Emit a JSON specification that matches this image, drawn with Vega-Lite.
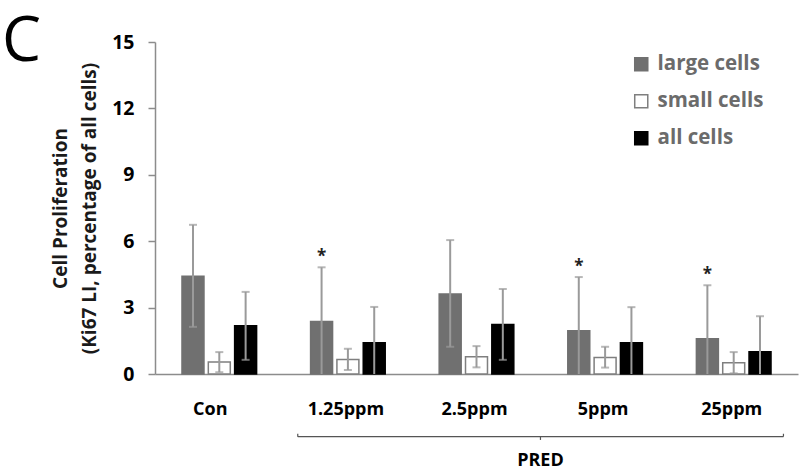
{
  "$schema": "https://vega.github.io/schema/vega-lite/v6.json",
  "width": 643,
  "height": 332,
  "autosize": "none",
  "padding": {"left": 155, "top": 42, "right": 2, "bottom": 98},
  "background": "white",
  "config": {"view": {"stroke": null}, "font": "Open Sans"},
  "title": {"text": "C", "anchor": "start", "frame": "group", "fontSize": 62, "font": "Open Sans", "fontWeight": "normal", "color": "black", "dx": -153, "dy": 42, "offset": 0},
  "datasets": {
    "cells": [
      {"group": "Con", "series": "large cells", "mean": 4.42, "lo": 2.13, "hi": 6.74, "sig": ""},
      {"group": "Con", "series": "small cells", "mean": 0.54, "lo": 0.08, "hi": 0.99, "sig": ""},
      {"group": "Con", "series": "all cells", "mean": 2.18, "lo": 0.64, "hi": 3.71, "sig": ""},
      {"group": "1.25ppm", "series": "large cells", "mean": 2.37, "lo": 0, "hi": 4.82, "sig": "*"},
      {"group": "1.25ppm", "series": "small cells", "mean": 0.66, "lo": 0.18, "hi": 1.14, "sig": ""},
      {"group": "1.25ppm", "series": "all cells", "mean": 1.41, "lo": 0, "hi": 3.03, "sig": ""},
      {"group": "2.5ppm", "series": "large cells", "mean": 3.62, "lo": 1.23, "hi": 6.05, "sig": ""},
      {"group": "2.5ppm", "series": "small cells", "mean": 0.78, "lo": 0.30, "hi": 1.26, "sig": ""},
      {"group": "2.5ppm", "series": "all cells", "mean": 2.24, "lo": 0.64, "hi": 3.84, "sig": ""},
      {"group": "5ppm", "series": "large cells", "mean": 1.95, "lo": 0, "hi": 4.38, "sig": "*"},
      {"group": "5ppm", "series": "small cells", "mean": 0.75, "lo": 0.29, "hi": 1.23, "sig": ""},
      {"group": "5ppm", "series": "all cells", "mean": 1.41, "lo": 0, "hi": 3.02, "sig": ""},
      {"group": "25ppm", "series": "large cells", "mean": 1.59, "lo": 0, "hi": 4.01, "sig": "*"},
      {"group": "25ppm", "series": "small cells", "mean": 0.51, "lo": 0.03, "hi": 0.99, "sig": ""},
      {"group": "25ppm", "series": "all cells", "mean": 1.00, "lo": 0, "hi": 2.61, "sig": ""}
    ],
    "bracket": [
      {"from": "1.25ppm", "to": "25ppm", "mid": "2.5ppm", "label": "PRED"}
    ]
  },
  "layer": [
    {
      "data": {"name": "cells"},
      "layer": [
        {
          "mark": {"type": "bar", "strokeWidth": 1.5},
          "encoding": {
            "x": {"field": "group", "type": "nominal",
              "scale": {"domain": ["Con", "1.25ppm", "2.5ppm", "5ppm", "25ppm"], "paddingInner": 0.386, "paddingOuter": 0.193},
              "axis": {"title": null, "labelAngle": 0, "ticks": false, "domainColor": "#8c8c8c", "domainWidth": 1.5,
                "labelFont": "Open Sans", "labelFontSize": 18, "labelFontWeight": "bold", "labelColor": "black", "labelPadding": 26,
                "labelOffset": {"condition": {"test": "datum.value === 'Con'", "value": -9}, "value": -2}}},
            "xOffset": {"field": "series", "type": "nominal",
              "scale": {"domain": ["large cells", "small cells", "all cells"], "paddingInner": 0.165, "paddingOuter": 0.0825}},
            "y": {"field": "mean", "type": "quantitative",
              "scale": {"domain": [0, 15], "nice": false, "zero": true},
              "axis": {"values": [0, 3, 6, 9, 12, 15], "grid": false, "domainColor": "#8c8c8c", "domainWidth": 1.5,
                "tickColor": "#8c8c8c", "tickSize": 7, "tickWidth": 1.5,
                "labelFont": "Open Sans", "labelFontSize": 19.5, "labelFontWeight": "bold", "labelColor": "black", "labelPadding": 14,
                "title": ["Cell Proliferation", "(Ki67 LI, percentage of all cells)"],
                "titleFont": "Open Sans", "titleFontSize": 19, "titleFontWeight": "bold", "titleColor": "#1a1a1a",
                "titleLineHeight": 29, "titlePadding": 12}},
            "fill": {"field": "series", "type": "nominal",
              "scale": {"domain": ["large cells", "small cells", "all cells"], "range": ["#707070", "#ffffff", "#000000"]},
              "legend": {"title": null, "orient": "none", "legendX": 476, "legendY": 12, "symbolType": "square", "symbolSize": 170,
                "symbolStrokeWidth": 1.5, "labelFont": "Open Sans", "labelFontSize": 20.5, "labelFontWeight": "bold", "labelColor": "#6b6b6b",
                "rowPadding": 16, "labelOffset": 6}},
            "stroke": {"field": "series", "type": "nominal",
              "scale": {"domain": ["large cells", "small cells", "all cells"], "range": ["#707070", "#7f7f7f", "#000000"]},
              "legend": {"title": null, "orient": "none", "legendX": 476, "legendY": 12, "symbolType": "square", "symbolSize": 170,
                "symbolStrokeWidth": 1.5, "labelFont": "Open Sans", "labelFontSize": 20.5, "labelFontWeight": "bold", "labelColor": "#6b6b6b",
                "rowPadding": 16, "labelOffset": 6}}
          }
        },
        {
          "mark": {"type": "rule", "color": "#9a9a9a", "strokeWidth": 2},
          "encoding": {
            "x": {"field": "group", "type": "nominal"},
            "xOffset": {"field": "series", "type": "nominal"},
            "y": {"field": "lo", "type": "quantitative"},
            "y2": {"field": "hi"}
          }
        },
        {
          "mark": {"type": "tick", "color": "#9a9a9a", "thickness": 2, "size": 8},
          "encoding": {
            "x": {"field": "group", "type": "nominal"},
            "xOffset": {"field": "series", "type": "nominal"},
            "y": {"field": "hi", "type": "quantitative"}
          }
        },
        {
          "transform": [{"filter": "datum.lo > 0"}],
          "mark": {"type": "tick", "color": "#9a9a9a", "thickness": 2, "size": 8},
          "encoding": {
            "x": {"field": "group", "type": "nominal"},
            "xOffset": {"field": "series", "type": "nominal"},
            "y": {"field": "lo", "type": "quantitative"}
          }
        },
        {
          "transform": [{"filter": "datum.sig !== ''"}],
          "mark": {"type": "text", "font": "Open Sans", "fontSize": 17, "fontWeight": "bold", "color": "#222222", "dy": -10, "baseline": "middle"},
          "encoding": {
            "x": {"field": "group", "type": "nominal"},
            "xOffset": {"field": "series", "type": "nominal"},
            "y": {"field": "hi", "type": "quantitative"},
            "text": {"field": "sig"}
          }
        }
      ]
    },
    {
      "data": {"name": "bracket"},
      "layer": [
        {
          "mark": {"type": "rule", "color": "#555555", "strokeWidth": 1.2},
          "encoding": {
            "x": {"field": "from", "type": "nominal", "bandPosition": -0.135},
            "x2": {"field": "to", "bandPosition": 1.13},
            "y": {"datum": -2.83}
          }
        },
        {
          "mark": {"type": "rule", "color": "#555555", "strokeWidth": 1.2},
          "encoding": {
            "x": {"field": "from", "type": "nominal", "bandPosition": -0.135},
            "y": {"datum": -2.83},
            "y2": {"datum": -2.7}
          }
        },
        {
          "mark": {"type": "rule", "color": "#555555", "strokeWidth": 1.2},
          "encoding": {
            "x": {"field": "to", "type": "nominal", "bandPosition": 1.13},
            "y": {"datum": -2.83},
            "y2": {"datum": -2.7}
          }
        },
        {
          "mark": {"type": "rule", "color": "#555555", "strokeWidth": 1.2},
          "encoding": {
            "x": {"field": "mid", "type": "nominal", "bandPosition": 1.31},
            "y": {"datum": -2.83},
            "y2": {"datum": -2.98}
          }
        },
        {
          "mark": {"type": "text", "font": "Open Sans", "fontSize": 18, "fontWeight": "bold", "color": "black", "baseline": "bottom"},
          "encoding": {
            "x": {"field": "mid", "type": "nominal", "bandPosition": 1.31},
            "y": {"datum": -4.33},
            "text": {"field": "label"}
          }
        }
      ]
    }
  ]
}
